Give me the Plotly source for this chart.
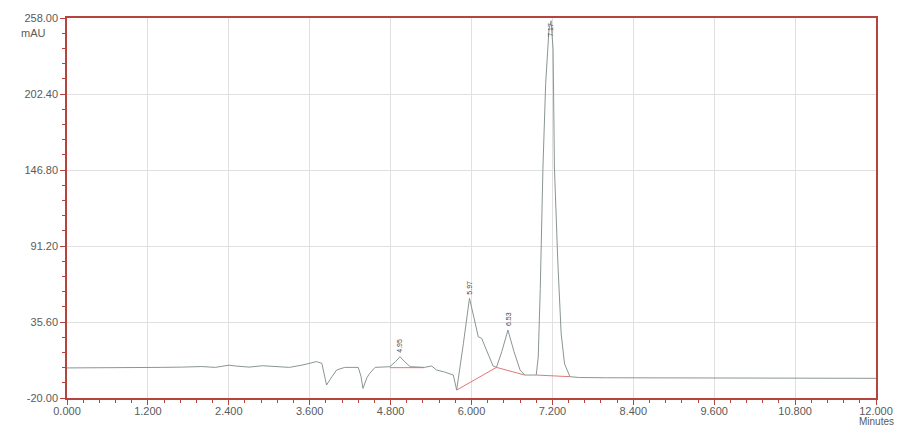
import plotly.graph_objects as go

# Chromatogram signal (minutes, mAU)
time_min = [0.0, 1.2, 1.4, 1.7, 2.0, 2.2, 2.4, 2.5, 2.7, 2.9, 3.1, 3.3, 3.5, 3.7,
            3.78, 3.85, 3.93, 4.0, 4.12, 4.32, 4.36, 4.39, 4.45, 4.49, 4.57, 4.79,
            4.87, 4.94, 5.01, 5.09, 5.30, 5.41, 5.48, 5.6, 5.73, 5.78, 5.88, 5.97,
            6.04, 6.10, 6.15, 6.25, 6.32, 6.37, 6.45, 6.54, 6.63, 6.72, 6.79, 6.96,
            6.99, 7.02, 7.06, 7.10, 7.15, 7.18, 7.21, 7.23, 7.28, 7.33, 7.38, 7.46,
            7.6, 8.0, 9.0, 10.0, 11.0, 12.0]
signal_mau = [2.0, 2.0, 2.4, 2.6, 3.0, 2.4, 4.0, 3.4, 2.6, 3.6, 2.8, 2.4, 4.2, 6.6,
              5.4, -10.5, -4.4, 0.5, 2.4, 2.4, -4.0, -13.0, -5.0, -2.0, 2.4, 2.9,
              6.5, 10.2, 6.5, 2.9, 2.4, 3.4, 0.5, -1.0, -3.2, -14.2, 20.0, 53.0,
              38.0, 24.8, 23.7, 12.0, 3.4, 2.4, 14.0, 29.7, 14.0, 0.5, -3.2, -3.2,
              10.0, 60.0, 149.0, 210.0, 250.0, 256.0, 235.0, 149.0, 80.0, 27.0, 5.0, -4.4,
              -5.0, -5.2, -5.4, -5.5, -5.6, -5.6]

# Integration baselines (pairs of segments)
base_t = [4.79, 5.30, None, 5.78, 6.37, 6.79, None, 6.96, 7.46]
base_y = [2.2, 2.2, None, -14.2, 2.4, -3.2, None, -3.2, -4.4]

# Peak retention-time labels
peak_t = [4.94, 5.97, 6.54, 7.18]
peak_y = [10.2, 53.0, 29.7, 256.0]
peak_text = ["4.95", "5.97", "6.53", "7.17"]

x_ticks = [0.0, 1.2, 2.4, 3.6, 4.8, 6.0, 7.2, 8.4, 9.6, 10.8, 12.0]
y_ticks = [-20.0, 35.6, 91.2, 146.8, 202.4, 258.0]

AX = "#b5443f"
GRID = "#e0e0e0"
FONT = dict(family="Arial, Liberation Sans, sans-serif", size=11, color="#5a5a5a")

fig = go.Figure()
fig.add_trace(go.Scatter(x=base_t, y=base_y, mode="lines",
                         line=dict(color="#e07878", width=1), hoverinfo="skip",
                         showlegend=False, connectgaps=False))
fig.add_trace(go.Scatter(x=time_min, y=signal_mau, mode="lines",
                         line=dict(color="#8a9692", width=1), showlegend=False))

for t, v, s in zip(peak_t, peak_y, peak_text):
    fig.add_annotation(x=t, y=v, text=s, textangle=-90, showarrow=False,
                       yanchor="bottom", yshift=2 if v < 200 else -18,
                       font=dict(family="Arial, sans-serif", size=7, color="#444444"))

fig.add_annotation(xref="paper", yref="paper", x=-0.024, y=0.96, text="mAU",
                   showarrow=False, xanchor="right", yanchor="middle", font=FONT)
fig.add_annotation(xref="paper", yref="paper", x=1.0, y=-30 / 380, text="Minutes",
                   showarrow=False, xanchor="center", yanchor="bottom",
                   borderpad=0,
                   font=dict(family=FONT["family"], size=10, color=FONT["color"]))

fig.update_xaxes(range=[0, 12], tickmode="array", tickvals=x_ticks,
                 ticktext=[f"{v:.3f}" for v in x_ticks], automargin=False,
                 showline=True, linecolor=AX, linewidth=1.5, mirror=True,
                 ticks="outside", ticklen=5, tickcolor=AX, tickwidth=1,
                 ticklabelstandoff=-3,
                 showgrid=True, gridcolor=GRID, gridwidth=1, zeroline=False,
                 minor=dict(dtick=0.24, tick0=0, ticks="outside", ticklen=3,
                            tickcolor=AX, showgrid=False),
                 tickfont=FONT)
fig.update_yaxes(range=[-20, 258], tickmode="array", tickvals=y_ticks,
                 ticktext=[f"{v:.2f}" for v in y_ticks], automargin=False,
                 showline=True, linecolor=AX, linewidth=1.5, mirror=True,
                 ticks="outside", ticklen=5, tickcolor=AX, tickwidth=1,
                 showgrid=True, gridcolor=GRID, gridwidth=1, zeroline=False,
                 minor=dict(dtick=11.12, tick0=-20, ticks="outside", ticklen=3,
                            tickcolor=AX, showgrid=False),
                 tickfont=FONT)

fig.update_layout(width=905, height=428, plot_bgcolor="white", paper_bgcolor="white",
                  margin=dict(l=67, r=29, t=18, b=30, autoexpand=False),
                  showlegend=False)

fig.write_html("out.html")
